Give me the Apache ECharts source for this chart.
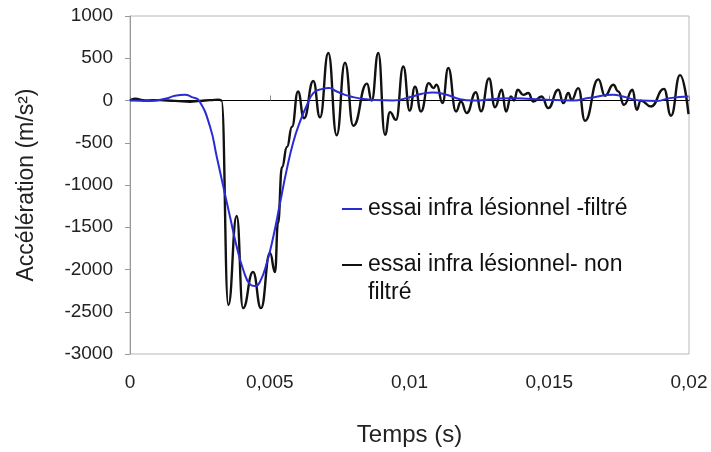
<!DOCTYPE html>
<html><head><meta charset="utf-8">
<script src="https://cdn.jsdelivr.net/npm/echarts@6/dist/echarts.min.js"></script>
<style>html,body{margin:0;padding:0;background:#fff}#c{width:711px;height:452px}</style>
</head><body><div id="c"></div>
<script>
// Temps (s)
const tRaw = [0,0.000179,0.000537,0.001073,0.00161,0.002147,0.002504,0.002862,0.003184,0.003274,0.003517,0.003818,0.004043,0.004401,0.004687,0.005009,0.005188,0.005295,0.005438,0.005617,0.005796,0.006011,0.006225,0.006558,0.006798,0.007095,0.007395,0.007692,0.007989,0.008479,0.008647,0.008884,0.009123,0.009302,0.009517,0.009778,0.010007,0.010197,0.010411,0.01069,0.010851,0.010973,0.011181,0.011388,0.011664,0.011843,0.012047,0.012379,0.012558,0.012844,0.013059,0.013299,0.013453,0.013631,0.01374,0.013871,0.014072,0.014251,0.014429,0.01473,0.014966,0.015324,0.015503,0.015682,0.015803,0.016039,0.016279,0.016755,0.016995,0.017292,0.017471,0.017674,0.017979,0.018129,0.018276,0.01864,0.019105,0.019356,0.019678,0.019982];
// Accélération non filtrée (m/s²)
const aRaw = [0,20,0,5,-5,-15,-5,5,10,0,-2420,-1366,-2457,-2030,-2457,-1805,-2030,-1450,-790,-550,-310,107,-210,230,-200,562,-412,447,-298,200,0,562,-406,-138,-229,403,-120,164,-130,206,147,186,-29,384,-130,-12,-148,98,-128,260,-80,127,-130,47,0,127,67,88,-12,47,-90,127,-31,88,8,147,-240,250,57,186,107,-51,127,-110,-2,-71,137,-180,300,-160];
// Temps (s) courbe filtrée
const tFilt = [0,0.000716,0.001252,0.00161,0.001968,0.002218,0.002469,0.002862,0.003102,0.003338,0.003578,0.003818,0.004054,0.004293,0.004472,0.004651,0.004891,0.005127,0.005367,0.005606,0.005843,0.006082,0.006322,0.006558,0.006859,0.00712,0.007395,0.007692,0.007989,0.008347,0.008766,0.00941,0.010018,0.010447,0.010841,0.011331,0.011807,0.012272,0.012987,0.013703,0.014919,0.01585,0.016458,0.017281,0.017639,0.018247,0.018855,0.01932,0.019982];
// Accélération filtrée (m/s²)
const aFilt = [0,-5,20,55,67,40,0,-308,-663,-1019,-1375,-1730,-2006,-2176,-2196,-2145,-1927,-1612,-1216,-821,-490,-250,-60,88,135,147,107,67,40,17,5,0,40,80,95,67,16,0,16,28,8,0,32,67,47,0,-5,28,47];
const yTicks = [-3000,-2500,-2000,-1500,-1000,-500,0,500,1000];
const xTicks = [0,0.005,0.01,0.015,0.02];
const nameFilt = 'essai infra lésionnel -filtré';
const nameRaw = 'essai infra lésionnel- non\nfiltré';

const chart = echarts.init(document.getElementById('c'));
const font = 'Arial, "Liberation Sans", sans-serif';
chart.setOption({
  animation: false,
  backgroundColor: '#fff',
  grid: {left: 130, right: 22, top: 16, bottom: 98, show: true, borderColor: '#b8b8b8', borderWidth: 1},
  legend: {
    orient: 'vertical', left: 337, top: 190, itemGap: 28,
    itemWidth: 20, itemHeight: 30, symbolKeepAspect: true,
    textStyle: {fontFamily: font, fontSize: 23, color: '#111', lineHeight: 28, padding: [0,0,0,1]},
    data: [
      {name: nameFilt, icon: 'path://M0,0H20V2H0Z'},
      {name: nameRaw, icon: 'path://M0,0H20V2H0Z M0,29.9H0.05V30H0Z'}
    ]
  },
  xAxis: [{
    type: 'value', min: xTicks[0], max: xTicks[xTicks.length-1], interval: 0.005,
    axisLine: {show: false, onZero: false}, axisTick: {show: false}, splitLine: {show: false},
    axisLabel: {margin: 19, fontFamily: font, fontSize: 19, color: '#222',
      formatter: v => String(+v.toFixed(3)).replace('.', ',')},
    name: 'Temps (s)', nameLocation: 'middle', nameGap: 69,
    nameTextStyle: {fontFamily: font, fontSize: 24, color: '#222'}
  },{
    type: 'value', min: xTicks[0], max: xTicks[xTicks.length-1], interval: 0.005,
    axisLine: {show: true, onZero: true, lineStyle: {color: '#000', width: 1}},
    axisTick: {show: true, length: 5, lineStyle: {color: '#888'}},
    axisLabel: {show: false}, splitLine: {show: false}
  }],
  yAxis: {
    type: 'value', min: yTicks[0], max: yTicks[yTicks.length-1], interval: 500,
    axisLine: {show: true, lineStyle: {color: '#999'}},
    axisTick: {show: true, length: 5, lineStyle: {color: '#999'}},
    splitLine: {show: false},
    axisLabel: {margin: 17, fontFamily: font, fontSize: 19, color: '#222', formatter: v => String(v)},
    name: 'Accélération (m/s²)', nameLocation: 'middle', nameGap: 92, nameRotate: 90,
    nameTextStyle: {fontFamily: font, fontSize: 23, color: '#222'}
  },
  series: [
    {name: nameFilt, type: 'line', xAxisIndex: 0, showSymbol: false, smooth: 0.5,
     data: tFilt.map((t,i) => [t, aFilt[i]]), lineStyle: {color: '#2b2bd6', width: 2}, itemStyle: {color: '#2b2bd6'}, z: 3},
    {name: nameRaw, type: 'line', xAxisIndex: 0, showSymbol: false, smooth: 0.5, smoothMonotone: 'x',
     data: tRaw.map((t,i) => [t, aRaw[i]]), lineStyle: {color: '#111', width: 2.4}, itemStyle: {color: '#111'}, z: 2}
  ]
});
</script></body></html>
